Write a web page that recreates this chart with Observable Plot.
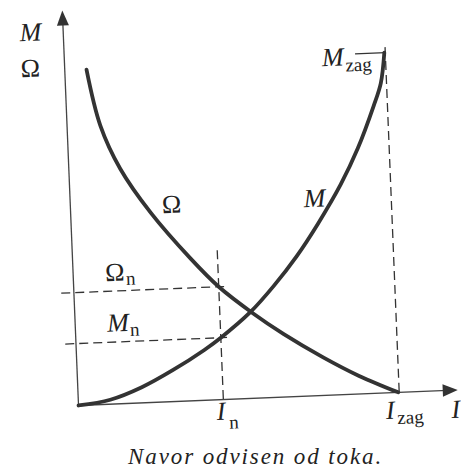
<!DOCTYPE html>
<html><head><meta charset="utf-8">
<script src="https://cdn.jsdelivr.net/npm/d3@7"></script>
<script src="https://cdn.jsdelivr.net/npm/@observablehq/plot@0.6"></script>
<style>
html,body{margin:0;padding:0;background:#fff;width:461px;height:472px;overflow:hidden;position:relative}
#chart svg{display:block}
#cap{position:absolute;left:128px;top:444px;font-family:"Liberation Serif","Times New Roman",serif;font-style:italic;font-size:23px;letter-spacing:1.9px;color:#222;line-height:26px;white-space:nowrap}
</style></head><body><div id="chart"></div><div id="cap"></div>
<script>
// Current I in % of I_zag; Ω and M in % of M_zag scale
const omegaI = [6.8, 10.4, 16.1, 25, 36.9, 45.3, 55.5, 65, 77, 88, 100];
const omegaV = [98.6, 82, 69, 55.8, 41.8, 33.2, 25.1, 18.5, 11.2, 5.3, 0];
const torqueI = [0, 10, 20, 30, 40, 45.3, 55, 62.5, 70, 77, 84.7, 90.5, 96, 98.5, 100];
const torqueV = [0, 1.3, 4.6, 9.3, 14.8, 18.2, 25.5, 32.8, 41.2, 50.4, 61.8, 72.2, 84.5, 91, 100];
const nominalI = 45.3, startI = 100;   // I_n, I_zag
const nominalOmega = 33.2, nominalM = 18.2, startM = 100; // Ω_n, M_n, M_zag
const xAxisEnd = 118.6, yAxisEnd = 116.3;
const captionText = "Navor odvisen od toka.";

// labels: main letters and subscripts
const italicLabels = [
  {t:"M", x:-10.2, y:110.2}, {t:"M", x:76.3, y:58}, {t:"M", x:83.8, y:99.2},
  {t:"M", x:13.4, y:23.8}, {t:"I", x:44.4, y:-3.5}, {t:"I", x:97.3, y:-5.2},
  {t:"I", x:117.7, y:-5.7}
];
const uprightLabels = [
  {t:"Ω", x:-10.7, y:99.6}, {t:"Ω", x:31.6, y:57.9}, {t:"Ω", x:13, y:38.6}
];
const subLabels = [
  {t:"zag", x:91.8, y:96.7}, {t:"n", x:17.9, y:36.6}, {t:"n", x:18.5, y:21.6},
  {t:"n", x:48.3, y:-6.9}, {t:"zag", x:103.5, y:-7.5}
];

const omega = omegaI.map((x, i) => ({x, y: omegaV[i]}));
const torque = torqueI.map((x, i) => ({x, y: torqueV[i]}));

const arrowUp = {draw(c){ c.moveTo(0,0); c.lineTo(6,15); c.lineTo(-6,15); c.closePath(); }};
const arrowRight = {draw(c){ c.moveTo(0,0); c.lineTo(-15,-6.2); c.lineTo(-15,6.2); c.closePath(); }};

const ink = "#333", dash = "9,5", font = "Liberation Serif, Times New Roman, serif";

const svg = Plot.plot({
  width: 461, height: 440,
  x: {domain:[0,100], range:[78,398], axis:null},
  y: {domain:[0,100], range:[405,65], axis:null},
  style: {overflow:"visible", background:"transparent"},
  marks: [
    // axes
    Plot.ruleY([0], {x1:0, x2:xAxisEnd - 3, stroke:"#444", strokeWidth:1.3}),
    Plot.ruleX([0], {y1:0, y2:yAxisEnd - 3, stroke:"#444", strokeWidth:1.3}),
    Plot.dot([{x:xAxisEnd, y:0}], {x:"x", y:"y", symbol:arrowRight, fill:ink, stroke:"none", r:5}),
    Plot.dot([{x:0, y:yAxisEnd}], {x:"x", y:"y", symbol:arrowUp, fill:ink, stroke:"none", r:5}),
    // dashed guides
    Plot.ruleY([nominalOmega], {x1:-3.8, x2:47.5, stroke:ink, strokeWidth:1.3, strokeDasharray:dash}),
    Plot.ruleY([nominalM], {x1:-3.2, x2:47.4, stroke:ink, strokeWidth:1.3, strokeDasharray:dash}),
    Plot.ruleX([nominalI], {y1:0, y2:44.4, stroke:ink, strokeWidth:1.3, strokeDasharray:dash}),
    Plot.ruleX([startI + 0.3], {y1:0, y2:102, stroke:ink, strokeWidth:1.3, strokeDasharray:dash}),
    Plot.ruleY([startM], {x1:91, x2:100.5, stroke:ink, strokeWidth:1.3}),
    // curves
    Plot.line(omega, {x:"x", y:"y", curve:"catmull-rom", stroke:ink, strokeWidth:3.8}),
    Plot.line(torque, {x:"x", y:"y", curve:"catmull-rom", stroke:ink, strokeWidth:3.8}),
    // labels
    Plot.text(italicLabels, {x:"x", y:"y", text:"t", fontSize:26, fontStyle:"italic", fontFamily:font, fill:"#222"}),
    Plot.text(uprightLabels, {x:"x", y:"y", text:"t", fontSize:26, fontFamily:font, fill:"#222"}),
    Plot.text(subLabels, {x:"x", y:"y", text:"t", fontSize:19, fontFamily:font, fill:"#222"})
  ]
});
svg.style.transformOrigin = "78px 405px";
svg.style.transform = "rotate(-2.35deg)";
document.getElementById("chart").appendChild(svg);
document.getElementById("cap").textContent = captionText;
</script>
</body></html>
